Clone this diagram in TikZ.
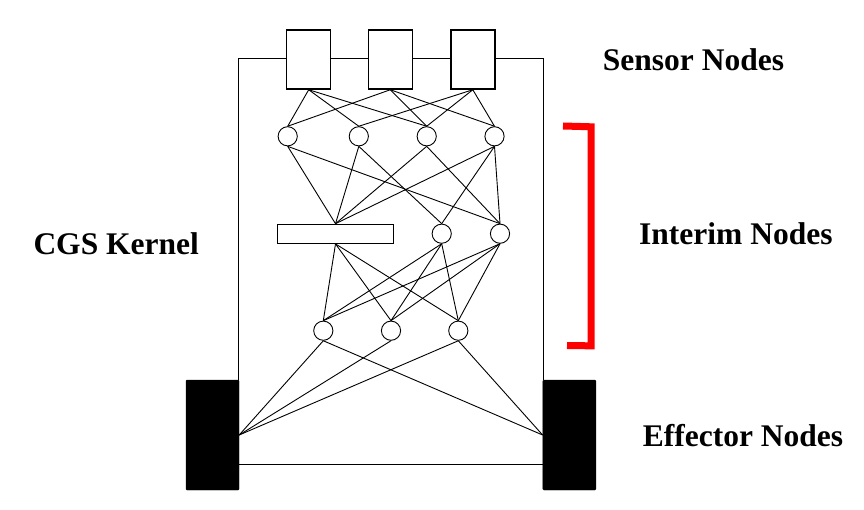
\documentclass[tikz,border=0pt]{standalone}
\usepackage{fontspec}
\setmainfont{Liberation Serif}
\begin{document}
\begin{tikzpicture}[x=1pt,y=-1pt,
  body/.style={line width=1.5pt},
  sensor/.style={draw,fill=white,line width=1.5pt,minimum width=44pt,minimum height=59pt,inner sep=0pt},
  neuron/.style={draw,circle,fill=white,line width=0.9pt,minimum size=19.2pt,inner sep=0pt},
  barbox/.style={draw,fill=white,line width=1.2pt,minimum width=115.6pt,minimum height=19pt,inner sep=0pt},
  effector/.style={draw=black,fill=black,rounded corners=1pt,minimum width=53pt,minimum height=110pt,inner sep=0pt},
  wire/.style={line width=0.9pt},
  lbl/.style={font=\fontsize{31.5}{36}\selectfont\bfseries,anchor=base west,inner sep=0pt},
  bracket/.style={draw=red,line width=7pt,line join=miter}]
\useasboundingbox (0,0) rectangle (864,510);
% body outline
\draw[body] (238.3,380) -- (238.3,58.3) -- (543.3,58.3) -- (543.3,380);
% sensors
\node[sensor] (s1) at (308.7,59.5) {};
\node[sensor] (s2) at (390.3,59.5) {};
\node[sensor] (s3) at (472.8,59.5) {};
% first interim layer
\node[neuron] (a1) at (287.7,136.3) {};
\node[neuron] (a2) at (358.8,136.3) {};
\node[neuron] (a3) at (426.7,136.3) {};
\node[neuron] (a4) at (494.5,136.3) {};
% second interim layer
\node[barbox] (r) at (335.5,233.8) {};
\node[neuron] (b2) at (441.7,233.7) {};
\node[neuron] (b3) at (500,233.7) {};
% third interim layer
\node[neuron] (d1) at (323.3,330.7) {};
\node[neuron] (d2) at (391,330.7) {};
\node[neuron] (d3) at (458.3,330.7) {};
% effectors
\node[effector] (el) at (212.5,435) {};
\node[effector] (er) at (569.3,435) {};
\draw[body] (el.east |- 0,464.3) -- (er.west |- 0,464.3);
% connections
\foreach \s/\t in {s1/a1,s1/a2,s1/a3,s2/a1,s2/a3,s2/a4,s3/a2,s3/a3,s3/a4,
                   a1/r,a1/b3,a2/r,a2/b2,a3/r,a3/b3,a4/r,a4/b2,a4/b3,
                   r/d1,r/d2,r/d3,b2/d1,b2/d2,b2/d3,b3/d1,b3/d2,b3/d3}
  \draw[wire] (\s.south) -- (\t.north);
\foreach \s in {d1,d2,d3}
  \draw[wire] (\s.south) -- (el.east);
\foreach \s in {d1,d3}
  \draw[wire] (\s.south) -- (er.west);
% red bracket
\draw[bracket] (563,126) -- (591,126.8) -- (591,345.8) -- (567,345.6);
% labels
\node[lbl] (tsens) at (602.7,70.7) {Sensor Nodes};
\node[lbl] (tcgs) at (33.3,255) {CGS Kernel};
\node[lbl] (tint) at (639,245) {Interim Nodes};
\node[lbl] (teff) at (642.7,446) {Effector Nodes};
\end{tikzpicture}
\end{document}
